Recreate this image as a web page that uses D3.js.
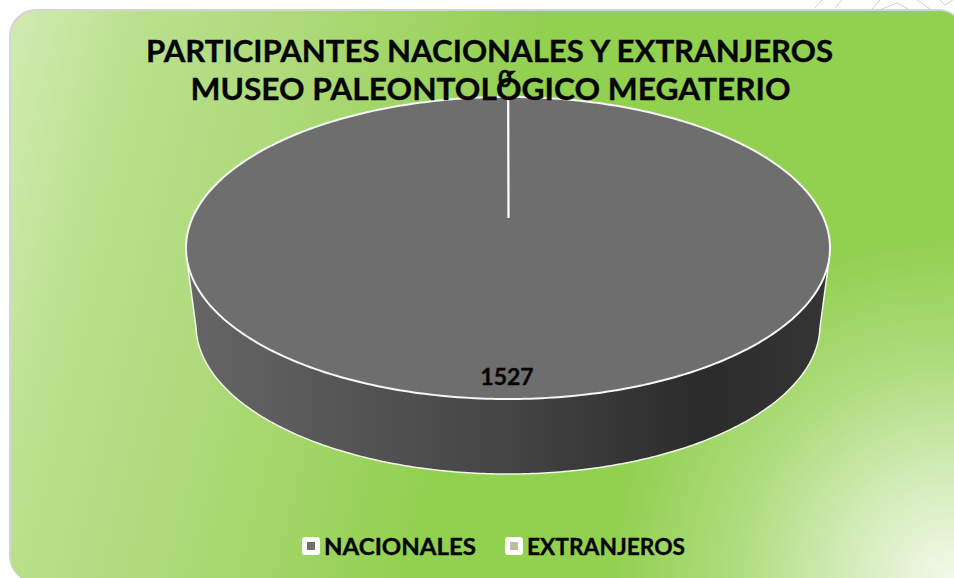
<!DOCTYPE html>
<html><head><meta charset="utf-8">
<script src="https://cdn.jsdelivr.net/npm/d3@7"></script>
<style>html,body{margin:0;padding:0;background:#fff}svg{display:block}text{font-family:Lato,"Noto Sans",sans-serif;font-weight:700;fill:#050505;stroke:#050505;stroke-width:.35px}</style>
</head><body><div id="c"></div>
<script>
const categories = ["NACIONALES", "EXTRANJEROS"];
const values = [1527, 0];
const sliceColors = ["#6e6e6e", "#bcbf9f"];
const titleLines = ["PARTICIPANTES NACIONALES Y EXTRANJEROS", "MUSEO PALEONTOLÓGICO MEGATERIO"];

(function(){
const W = 954, H = 578;
const svg = d3.select("#c").append("svg").attr("width", W).attr("height", H);
const defs = svg.append("defs");

const bg = defs.append("linearGradient").attr("id","bg").attr("gradientUnits","userSpaceOnUse")
  .attr("x1",0).attr("y1",0).attr("x2",520).attr("y2",130);
[[0,"#d2ecb4"],[.07,"#cde9ab"],[.29,"#b8e08a"],[.55,"#aeda7a"],[1,"#92d050"]].forEach(([o,c])=>bg.append("stop").attr("offset",o).attr("stop-color",c));
const glow = defs.append("radialGradient").attr("id","glow").attr("gradientUnits","userSpaceOnUse")
  .attr("cx",950).attr("cy",578).attr("r",340);
[[0,"#fff",.88],[.3,"#fff",.6],[.65,"#fff",.25],[1,"#fff",0]].forEach(([o,c,a])=>glow.append("stop").attr("offset",o).attr("stop-color",c).attr("stop-opacity",a));
const side = defs.append("linearGradient").attr("id","side").attr("gradientUnits","userSpaceOnUse")
  .attr("x1",190).attr("y1",0).attr("x2",830).attr("y2",0);
[[0,"#666666"],[.2,"#585858"],[.5,"#444444"],[.8,"#2b2b2b"],[1,"#353535"]].forEach(([o,c])=>side.append("stop").attr("offset",o).attr("stop-color",c));

svg.append("path").attr("fill","none").attr("stroke","#cfcfcf").attr("stroke-width",1)
  .attr("d","M815 8L822 0M835 8L842 0M872 9L880 0M882 9L897 3L908 9M917 0L930 9M940 0L945 5L953 0");

svg.append("rect").attr("x",9).attr("y",9).attr("width",956).attr("height",574).attr("rx",27).attr("fill","#d4d4d4");
svg.append("rect").attr("x",11).attr("y",11).attr("width",954).attr("height",572).attr("rx",26).attr("fill","url(#bg)");
svg.append("rect").attr("x",11).attr("y",11).attr("width",954).attr("height",572).attr("rx",26).attr("fill","url(#glow)");

const cx = 508, upper = {cy:248, rx:322, ry:151}, lower = {cy:325, rx:312, ry:149};
const sx = e => d3.scaleLinear().domain([-1,1]).range([cx-e.rx, cx+e.rx]);
const sy = e => d3.scaleLinear().domain([-1,1]).range([e.cy-e.ry, e.cy+e.ry]);
const proj = (e,a) => [sx(e)(Math.sin(a)), sy(e)(-Math.cos(a))];
const line = d3.line();
const pie = d3.pie().sort(null).value(d=>d)(values);
const sweep = (e,a0,a1,n=240) => d3.range(n+1).map(i=>proj(e,a0+(a1-a0)*i/n));

const a0 = Math.PI/2+0.07, a1 = 3*Math.PI/2-0.07;
const b0 = Math.PI/2+0.02, b1 = 3*Math.PI/2-0.02;
const wall = [...sweep(upper,a0,a1),...sweep(lower,b1,b0)];
svg.append("path").attr("d",line(wall)+"Z").attr("fill","url(#side)");
const wallEdge = [proj(upper,a0),...sweep(lower,b0,b1),proj(upper,a1)];
svg.append("path").attr("d",line(wallEdge)).attr("fill","none").attr("stroke","#f2f6ea").attr("stroke-width",1.5);

const apex = [cx+.5, 218];
svg.selectAll("path.slice").data(pie).join("path").attr("class","slice")
  .attr("d",d=>line(d.endAngle>d.startAngle ? sweep(upper,d.startAngle,d.endAngle,360) : [apex,proj(upper,d.startAngle)])+"Z")
  .attr("fill",(d,i)=>sliceColors[i]).attr("stroke","#f6f6f6").attr("stroke-width",2);
svg.append("path").attr("d",line([apex,[apex[0],proj(upper,0)[1]]])).attr("stroke","#fff").attr("stroke-width",1.6);

svg.append("path").attr("d",line([[496,86],[505,93]])).attr("stroke","#bdbdbd").attr("stroke-width",1.2);

titleLines.forEach((t,i)=>svg.append("text").attr("x",[489.5,490.5][i]).attr("y",[62,100][i])
  .attr("text-anchor","middle").attr("font-size",30).attr("textLength",[687,600][i]).attr("lengthAdjust","spacingAndGlyphs").text(t));

svg.append("text").attr("x",507).attr("y",385).attr("text-anchor","middle").attr("font-size",23).text(values[0]);
svg.append("text").attr("x",505).attr("y",87).attr("text-anchor","middle").attr("font-size",23).text(values[1]);

const legendX = [302, 505], legendW = [152, 158];
categories.forEach((c,i)=>{
  const g = svg.append("g").attr("transform",`translate(${legendX[i]},537)`);
  g.append("rect").attr("width",18).attr("height",18).attr("rx",3).attr("fill","#fff");
  g.append("rect").attr("x",5).attr("y",5).attr("width",8).attr("height",8).attr("fill",sliceColors[i]);
  g.append("text").attr("x",22).attr("y",17.5).attr("font-size",22).attr("textLength",legendW[i]).attr("lengthAdjust","spacingAndGlyphs").text(c);
});
})();
</script></body></html>
